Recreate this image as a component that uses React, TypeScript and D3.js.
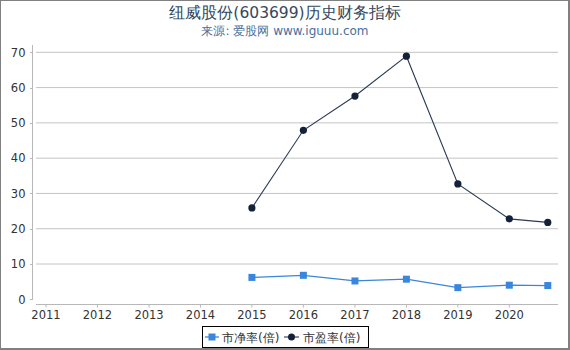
import React from "react";
import * as d3 from "d3";

const years = ["2015", "2016", "2017", "2018", "2019", "2020", "2020-09"];
const dates = ["2015-01-01", "2016-01-01", "2017-01-01", "2018-01-01", "2019-01-01", "2020-01-01", "2020-09-30"];
const pbValues = [6.2, 6.8, 5.2, 5.7, 3.3, 4.0, 3.9];
const peValues = [25.9, 47.9, 57.6, 68.9, 32.7, 22.8, 21.8];
const yTicks = [0, 10, 20, 30, 40, 50, 60, 70];
const xTickYears = [2011, 2012, 2013, 2014, 2015, 2016, 2017, 2018, 2019, 2020];
const seriesNames = ["市净率(倍)", "市盈率(倍)"];
const title = "纽威股份(603699)历史财务指标";
const subtitle = "来源: 爱股网 www.iguuu.com";

const W = 570;
const H = 350;
const FONT = "'DejaVu Sans', sans-serif";
const PB_COLOR = "#3a86dc";
const PE_COLOR = "#14213a";
const PE_LINE = "#2a3a55";

export default function App() {
  const parse = d3.timeParse("%Y-%m-%d");
  const x = d3
    .scaleTime()
    .domain([new Date(2011, 0, 1), new Date(2020, 0, 1)])
    .range([46, 509.3]);
  const y = d3.scaleLinear().domain([0, 70]).range([299.3, 52.3]);

  const pts = dates.map((d, i) => ({
    label: years[i],
    date: parse(d) as Date,
    pb: pbValues[i],
    pe: peValues[i],
  }));

  const pbLine = d3
    .line<any>()
    .x((d) => x(d.date))
    .y((d) => y(d.pb));
  const peLine = d3
    .line<any>()
    .x((d) => x(d.date))
    .y((d) => y(d.pe));

  return (
    <svg
      width={W}
      height={H}
      style={{ position: "absolute", left: 0, top: 0, background: "#fff" }}
      fontFamily={FONT}
    >
      <rect x={0} y={0} width={W} height={H} fill="#fff" />
      {/* frame */}
      <rect x={0.5} y={0.5} width={W - 2} height={H - 2} fill="none" stroke="#808080" strokeWidth={1} />
      <line x1={W - 1} y1={0} x2={W - 1} y2={H} stroke="#808080" strokeWidth={2} />
      <line x1={0} y1={H - 1} x2={W} y2={H - 1} stroke="#808080" strokeWidth={2} />

      <text x={285} y={18} textAnchor="middle" fontSize={15.5} fill="#34495e">
        {title}
      </text>
      <text x={285} y={35} textAnchor="middle" fontSize={12} fill="#4a6e9c">
        {subtitle}
      </text>

      {/* gridlines */}
      {yTicks.slice(1).map((t) => (
        <line key={t} x1={36} x2={558} y1={y(t)} y2={y(t)} stroke="#c4c4c4" strokeWidth={1} />
      ))}

      {/* y axis */}
      <line x1={32.5} x2={32.5} y1={45} y2={300} stroke="#b8b8b8" strokeWidth={1} />
      {yTicks.map((t) => (
        <g key={t}>
          <line x1={30} x2={32.5} y1={Math.round(y(t)) + 0.5} y2={Math.round(y(t)) + 0.5} stroke="#b8b8b8" />
          <text x={25.5} y={y(t) + 4.3} textAnchor="end" fontSize={11.5} fill="#333">
            {t}
          </text>
        </g>
      ))}

      {/* x axis */}
      <line x1={36} x2={558} y1={304.5} y2={304.5} stroke="#b8b8b8" strokeWidth={1} />
      {xTickYears.map((yr) => {
        const xx = x(new Date(yr, 0, 1));
        return (
          <g key={yr}>
            <line x1={xx} x2={xx} y1={304.5} y2={307.5} stroke="#b8b8b8" />
            <text x={xx} y={319} textAnchor="middle" fontSize={11.5} fill="#333">
              {yr}
            </text>
          </g>
        );
      })}

      {/* PE series */}
      <path d={peLine(pts) || ""} fill="none" stroke={PE_LINE} strokeWidth={1.1} />
      {pts.map((p) => (
        <circle key={"pe" + p.label} cx={x(p.date)} cy={y(p.pe)} r={3.6} fill={PE_COLOR} />
      ))}

      {/* PB series */}
      <path d={pbLine(pts) || ""} fill="none" stroke={PB_COLOR} strokeWidth={1.3} />
      {pts.map((p) => (
        <rect
          key={"pb" + p.label}
          x={x(p.date) - 3.5}
          y={y(p.pb) - 3.5}
          width={7}
          height={7}
          fill={PB_COLOR}
        />
      ))}

      {/* legend */}
      <rect x={202.5} y={326.5} width={166} height={21} fill="#fff" stroke="#000" strokeWidth={1} />
      <line x1={205} x2={219} y1={337} y2={337} stroke={PB_COLOR} strokeWidth={1.3} />
      <rect x={208.5} y={333.5} width={7} height={7} fill={PB_COLOR} />
      <text x={222} y={341.5} fontSize={12} fill="#333">
        {seriesNames[0]}
      </text>
      <line x1={284} x2={299} y1={337} y2={337} stroke={PE_LINE} strokeWidth={1.1} />
      <circle cx={291.5} cy={337} r={3.5} fill={PE_COLOR} />
      <text x={303} y={341.5} fontSize={12} fill="#333">
        {seriesNames[1]}
      </text>
    </svg>
  );
}
